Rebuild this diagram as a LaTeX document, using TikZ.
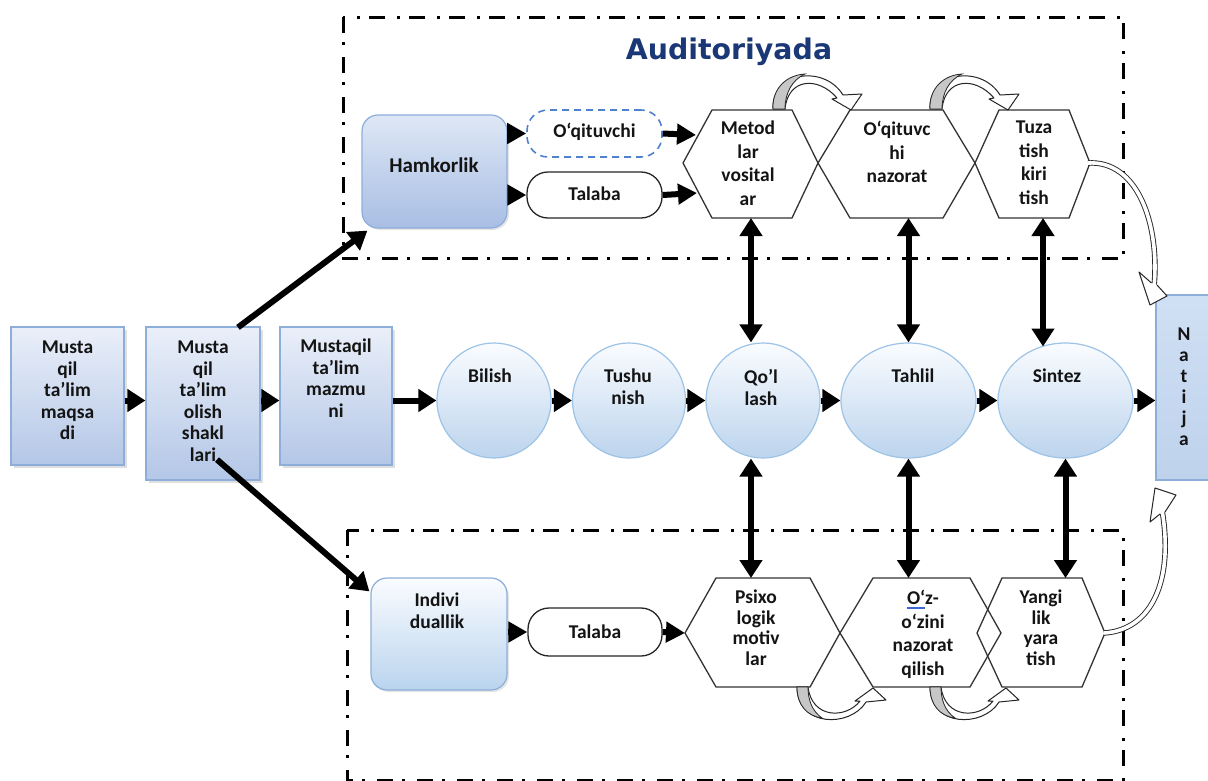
\documentclass[tikz,border=0pt]{standalone}
\usepackage{fontspec}
\setmainfont{Carlito}
\newfontfamily\titlefont{DejaVu Sans}
\usetikzlibrary{shapes.geometric,arrows.meta,calc,shadows}
\definecolor{sqtop}{RGB}{234,239,249}
\definecolor{sqbot}{RGB}{180,199,231}
\definecolor{sqborder}{RGB}{142,174,218}
\definecolor{hamtop}{RGB}{222,231,245}
\definecolor{hambot}{RGB}{168,190,228}
\definecolor{indtop}{RGB}{250,252,255}
\definecolor{indbot}{RGB}{186,212,238}
\definecolor{cirtop}{RGB}{250,252,255}
\definecolor{cirbot}{RGB}{188,212,237}
\definecolor{cirborder}{RGB}{157,195,230}
\definecolor{nattop}{RGB}{208,224,244}
\definecolor{natbot}{RGB}{190,210,236}
\definecolor{titleblue}{RGB}{26,55,118}
\definecolor{dashblue}{RGB}{79,129,205}
\definecolor{markblue}{RGB}{60,100,220}
\newsavebox\spellbox
\newcommand\spellmark[1]{\sbox\spellbox{#1}\rlap{\color{markblue}\rule[-2.6pt]{\wd\spellbox}{0.6pt}}\rlap{\color{markblue}\rule[-4.4pt]{\wd\spellbox}{0.6pt}}\usebox\spellbox}
\begin{document}
\begin{tikzpicture}[x=1pt,y=-1pt,
 txt/.style={font=\bfseries\fontsize{19.5}{21.5}\selectfont,text=black!92,align=center,inner sep=0pt},
 sqbox/.style={rectangle,draw=sqborder,line width=1.2pt,top color=sqtop,bottom color=sqbot,drop shadow={opacity=0.25,shadow xshift=2.5pt,shadow yshift=-2.5pt},inner sep=0pt},
 circ/.style={ellipse,draw=cirborder,line width=1.2pt,top color=cirtop,bottom color=cirbot,inner sep=0pt},
 rbox/.style={rectangle,rounded corners=16pt,draw=sqborder,line width=1.2pt,inner sep=0pt,drop shadow={opacity=0.2,shadow xshift=2pt,shadow yshift=-2pt}},
 pill/.style={rectangle,rounded corners=21pt,draw=black!85,line width=1.3pt,fill=white,minimum width=135pt,inner sep=0pt},
 hexa/.style={draw=black!80,line width=1.3pt,line join=miter},
 frame/.style={line width=3pt,dash pattern=on 16pt off 9pt on 3pt off 12pt},
 arr/.style={line width=6pt,-{Triangle[length=18pt,width=22pt]}},
 sarr/.style={line width=6pt,-{Triangle[length=19pt,width=20pt]}},
 darr/.style={line width=6pt,{Triangle[length=18pt,width=22pt]}-{Triangle[length=18pt,width=22pt]}},
 hollow/.style={draw=black!85,line width=1pt,fill=white,line join=round},
 shaft/.style={draw=black!85,line width=0.9pt,double=white,double distance=3.6pt},
]
\useasboundingbox (0,0) rectangle (1208,780);
\clip (0,0) rectangle (1208,780);
\fill[white] (0,0) rectangle (1208,780);

% frames
\draw[frame] (343,17) rectangle (1123,258);
\draw[frame] (347,530) rectangle (1123,780);

\node[font=\titlefont\bfseries\fontsize{28.4}{30}\selectfont,text=titleblue,anchor=base,inner sep=0pt] (title) at (729,59) {Auditoriyada};

% left boxes
\node[sqbox,minimum width=113pt,minimum height=138pt] (b1) at (67.5,396) {};
\node[sqbox,minimum width=114pt,minimum height=153pt] (b2) at (203,403.5) {};
\node[sqbox,minimum width=112pt,minimum height=138pt] (b3) at (336,396) {};
\node[txt,anchor=north] (t1) at (67.5,341) {Musta\\qil\\ta’lim\\maqsa\\di};
\node[txt,anchor=north] (t2) at (203,341) {Musta\\qil\\ta’lim\\olish\\shakl\\lari};
\node[txt,anchor=north] (t3) at (336,339) {Mustaqil\\ta’lim\\mazmu\\ni};

% circles
\node[circ,minimum width=114pt,minimum height=115pt] (bil) at (494,400.5) {};
\node[circ,minimum width=113pt,minimum height=115pt] (tus) at (629,400.5) {};
\node[circ,minimum width=114pt,minimum height=115pt] (qol) at (763,400.5) {};
\node[circ,minimum width=135pt,minimum height=115pt] (tah) at (908.5,400.5) {};
\node[circ,minimum width=135pt,minimum height=115pt] (sin) at (1065.5,400.5) {};
\node[txt,anchor=north] (tbil) at (490,369) {Bilish};
\node[txt,anchor=north,font=\bfseries\fontsize{19.5}{22}\selectfont] (ttus) at (628,369) {Tushu\\nish};
\node[txt,anchor=north,font=\bfseries\fontsize{19.5}{22}\selectfont] (tqol) at (761,369) {Qo’l\\lash};
\node[txt,anchor=north] (ttah) at (913,369) {Tahlil};
\node[txt,anchor=north] (tsin) at (1057,369) {Sintez};

% Natija
\node[rectangle,draw=sqborder,line width=1.2pt,top color=nattop,bottom color=natbot,minimum width=76pt,minimum height=185pt,inner sep=0pt] (nat) at (1194,387.5) {};
\node[txt,anchor=north,font=\bfseries\fontsize{19.5}{21}\selectfont] (tnat) at (1184,328) {N\\a\\t\\i\\j\\a};

% Hamkorlik group
\node[rbox,top color=hamtop,bottom color=hambot,minimum width=145pt,minimum height=113pt] (ham) at (434.5,171.5) {};
\node[txt,font=\bfseries\fontsize{21}{23}\selectfont,anchor=base] (tham) at (434,172) {Hamkorlik};
\node[pill,draw=dashblue,dash pattern=on 7pt off 5pt,line width=1.6pt,minimum height=47pt] (oq) at (594.5,133.5) {};
\node[pill,minimum height=46pt] (tal1) at (594.5,195) {};
\node[txt,anchor=base] (toq) at (594.5,137.5) {O‘qituvchi};
\node[txt,anchor=base] (ttal1) at (594.5,200) {Talaba};

% Individual group
\node[rbox,top color=indtop,bottom color=indbot,minimum width=136pt,minimum height=112pt] (ind) at (439,634) {};
\node[txt,anchor=north,font=\bfseries\fontsize{19.5}{22}\selectfont] (tind) at (437,593) {Indivi\\duallik};
\node[pill,minimum height=48pt,minimum width=134pt] (tal2) at (595,632) {};
\node[txt,anchor=base] (ttal2) at (595,638) {Talaba};

% hexagons top
\draw[hexa] (683,163) -- (712,110) -- (792,110) -- (818,163) -- (792,218) -- (712,218) -- cycle;
\draw[hexa] (818,163) -- (850,110) -- (943,110) -- (975,163) -- (943,218) -- (850,218) -- cycle;
\draw[hexa] (975,163) -- (999,110) -- (1069,110) -- (1090,163) -- (1069,218) -- (999,218) -- cycle;
% hexagons bottom
\draw[hexa] (685,633) -- (716,578) -- (810,578) -- (840,633) -- (810,687) -- (716,687) -- cycle;
\draw[hexa] (840,633) -- (873,578) -- (970,578) -- (1001,633) -- (970,687) -- (873,687) -- cycle;
\draw[hexa] (977,633) -- (1002,578) -- (1082,578) -- (1105,633) -- (1082,687) -- (1002,687) -- cycle;

\node[txt,anchor=north,font=\bfseries\fontsize{19.5}{23.5}\selectfont] (th1) at (748,121) {Metod\\lar\\vosital\\ar};
\node[txt,anchor=north,font=\bfseries\fontsize{19.5}{23.5}\selectfont] (th2) at (897,121) {O‘qituvc\\hi\\nazorat};
\node[txt,anchor=north,font=\bfseries\fontsize{19.5}{23.5}\selectfont] (th3) at (1034,121) {Tuza\\tish\\kiri\\tish};
\node[txt,anchor=north,font=\bfseries\fontsize{19.5}{20.5}\selectfont] (tg1) at (756,590) {Psixo\\logik\\motiv\\lar};
\node[txt,anchor=north,font=\bfseries\fontsize{19.5}{23.5}\selectfont] (tg2) at (923,590) {\spellmark{O‘}z-\\o‘zini\\nazorat\\qilish};
\node[txt,anchor=north,font=\bfseries\fontsize{19.5}{20.5}\selectfont] (tg3) at (1041,590) {Yangi\\lik\\yara\\tish};

% coordinates on hexagons
\coordinate (h1in1) at (696,135);
\coordinate (h1in2) at (697,193);
\coordinate (h1b) at (751,218);
\coordinate (h2b) at (908.5,218);
\coordinate (h3b) at (1043,218);
\coordinate (g1l) at (685,633);
\coordinate (g1t) at (751,578);
\coordinate (g2t) at (908.5,578);
\coordinate (g3t) at (1065.5,578);
\coordinate (h3r) at (1088,163);
\coordinate (g3r) at (1104,633);

% main row arrows
\draw[arr] (b1.east |- bil.center) -- (b2.west |- bil.center);
\draw[arr] (b2.east |- bil.center) -- (b3.west |- bil.center);
\draw[arr] (b3.east |- bil.center) -- (bil.west);
\draw[arr] (bil.east) -- (tus.west);
\draw[arr] (tus.east) -- (qol.west);
\draw[arr] (qol.east) -- (tah.west);
\draw[arr] (tah.east) -- (sin.west);
\draw[arr] (sin.east) -- (nat.west |- sin.east);

% diagonal arrows
\draw[arr] ($(b2.north)+(35,1)$) -- ($(ham.south west)+(6,2)$);
\draw[arr] ($(b2.south)+(14,-21)$) -- ($(ind.north west)+(-1,14)$);

% small arrows
\draw[sarr] (ham.east |- oq.center) -- (oq.west);
\draw[sarr] (ham.east |- tal1.center) -- (tal1.west);
\draw[sarr] (oq.east) -- (h1in1);
\draw[sarr] (tal1.east) -- (h1in2);
\draw[sarr] (ind.east |- tal2.center) -- (tal2.west);
\draw[sarr] (tal2.east) -- (g1l);

% vertical double arrows
\draw[darr] (h1b) -- (h1b |- qol.north);
\draw[darr] (h2b) -- (tah.north);
\draw[darr] (h3b) -- ($(sin.center)+(-22.5,-54)$);
\draw[darr] (qol.south -| g1t) -- (g1t);
\draw[darr] (tah.south) -- (g2t);
\draw[darr] (sin.south) -- (g3t);

% small curved arrows (top)
\foreach \dx in {0,157}{
 \begin{scope}[shift={(\dx,0)}]
  \filldraw[hollow] (773,109) .. controls (771,72) and (824,64) .. (843,95) -- (862,94) -- (851,110) -- (832,99) -- (837,98) .. controls (818,76) and (788,78) .. (785,109) -- cycle;
  \filldraw[fill=black!22,draw=black!85,line width=0.8pt] (773,109) .. controls (772,88) and (787,75) .. (805,74) .. controls (792,80) and (785,93) .. (785,109) -- cycle;
 \end{scope}
}
% small curved arrows (bottom)
\foreach \dx in {0,133}{
 \begin{scope}[shift={(\dx,0)}]
  \filldraw[hollow] (797,687) .. controls (797,727) and (850,728) .. (866,702) -- (886,700) -- (873,688) -- (855,701) -- (860,701) .. controls (846,719) and (812,719) .. (808,687) -- cycle;
  \filldraw[fill=black!22,draw=black!85,line width=0.8pt] (797,687) .. controls (797,705) and (807,716) .. (822,718) .. controls (812,711) and (808,700) .. (808,687) -- cycle;
 \end{scope}
}

% big curved arrows to Natija
\draw[shaft] (h3r) .. controls (1138,160) and (1160,225) .. (1154,287);
\filldraw[hollow] (1151.5,283) -- (1139,272) -- (1150,305) -- (1167,296) -- (1157,285);
\draw[shaft] (g3r) .. controls (1152,630) and (1174,580) .. (1162,510);
\filldraw[hollow] (1160,514) -- (1150,522) -- (1155,488) -- (1176,495) -- (1165,512);
\end{tikzpicture}
\end{document}
